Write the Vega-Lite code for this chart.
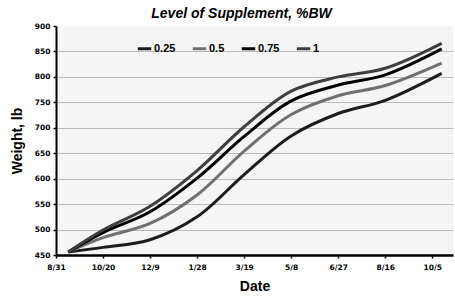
{
  "$schema": "https://vega.github.io/schema/vega-lite/v6.json",
  "width": 397,
  "height": 229,
  "autosize": "none",
  "padding": {"left": 56, "top": 26, "right": 2, "bottom": 43},
  "background": "white",
  "title": {"text": "Level of Supplement, %BW", "font": "Liberation Sans", "fontSize": 14, "fontWeight": "bold", "fontStyle": "italic", "color": "#000", "dx": -13, "offset": 1},
  "config": {
    "view": {"fill": "#f5f5f5", "stroke": null},
    "font": "Liberation Sans"
  },
  "data": {"values": [
    {"date": "2005-09-13", "level": "0.25", "weight": 456},
    {"date": "2005-10-20", "level": "0.25", "weight": 465},
    {"date": "2005-12-09", "level": "0.25", "weight": 480},
    {"date": "2006-01-28", "level": "0.25", "weight": 525},
    {"date": "2006-03-19", "level": "0.25", "weight": 608},
    {"date": "2006-05-08", "level": "0.25", "weight": 684},
    {"date": "2006-06-27", "level": "0.25", "weight": 728},
    {"date": "2006-08-16", "level": "0.25", "weight": 754},
    {"date": "2006-10-15", "level": "0.25", "weight": 807},
    {"date": "2005-09-13", "level": "0.5", "weight": 456},
    {"date": "2005-10-20", "level": "0.5", "weight": 484},
    {"date": "2005-12-09", "level": "0.5", "weight": 512},
    {"date": "2006-01-28", "level": "0.5", "weight": 568},
    {"date": "2006-03-19", "level": "0.5", "weight": 654},
    {"date": "2006-05-08", "level": "0.5", "weight": 726},
    {"date": "2006-06-27", "level": "0.5", "weight": 763},
    {"date": "2006-08-16", "level": "0.5", "weight": 783},
    {"date": "2006-10-15", "level": "0.5", "weight": 827},
    {"date": "2005-09-13", "level": "0.75", "weight": 456},
    {"date": "2005-10-20", "level": "0.75", "weight": 494},
    {"date": "2005-12-09", "level": "0.75", "weight": 535},
    {"date": "2006-01-28", "level": "0.75", "weight": 601},
    {"date": "2006-03-19", "level": "0.75", "weight": 683},
    {"date": "2006-05-08", "level": "0.75", "weight": 753},
    {"date": "2006-06-27", "level": "0.75", "weight": 784},
    {"date": "2006-08-16", "level": "0.75", "weight": 804},
    {"date": "2006-10-15", "level": "0.75", "weight": 855},
    {"date": "2005-09-13", "level": "1", "weight": 456},
    {"date": "2005-10-20", "level": "1", "weight": 499},
    {"date": "2005-12-09", "level": "1", "weight": 546},
    {"date": "2006-01-28", "level": "1", "weight": 616},
    {"date": "2006-03-19", "level": "1", "weight": 702},
    {"date": "2006-05-08", "level": "1", "weight": 772},
    {"date": "2006-06-27", "level": "1", "weight": 800},
    {"date": "2006-08-16", "level": "1", "weight": 817},
    {"date": "2006-10-15", "level": "1", "weight": 866}
  ]},
  "mark": {"type": "line", "interpolate": "catmull-rom", "strokeWidth": 3},
  "encoding": {
    "x": {
      "field": "date", "type": "temporal",
      "scale": {"type": "utc", "domain": [{"year": 2005, "month": 8, "date": 31, "utc": true}, {"year": 2006, "month": 10, "date": 27, "utc": true}]},
      "axis": {
        "title": "Date", "titleFont": "Liberation Sans", "titleFontSize": 14, "titleFontWeight": "bold", "titleColor": "#000", "titlePadding": 9,
        "values": [
          {"year": 2005, "month": 8, "date": 31, "utc": true},
          {"year": 2005, "month": 10, "date": 20, "utc": true},
          {"year": 2005, "month": 12, "date": 9, "utc": true},
          {"year": 2006, "month": 1, "date": 28, "utc": true},
          {"year": 2006, "month": 3, "date": 19, "utc": true},
          {"year": 2006, "month": 5, "date": 8, "utc": true},
          {"year": 2006, "month": 6, "date": 27, "utc": true},
          {"year": 2006, "month": 8, "date": 16, "utc": true},
          {"year": 2006, "month": 10, "date": 5, "utc": true}
        ],
        "labelExpr": "utcFormat(datum.value, '%-m/%-d')",
        "grid": false, "domainColor": "#000", "domainWidth": 2.5, "tickColor": "#000", "tickSize": 3, "tickWidth": 1.5,
        "labelFont": "DejaVu Sans", "labelFontSize": 7.5, "labelFontWeight": "bold", "labelColor": "#000", "labelPadding": 5, "labelFlush": false
      }
    },
    "y": {
      "field": "weight", "type": "quantitative",
      "scale": {"domain": [450, 900], "nice": false, "zero": false},
      "axis": {
        "title": "Weight, lb", "titleFont": "Liberation Sans", "titleFontSize": 14, "titleFontWeight": "bold", "titleColor": "#000", "titlePadding": 10,
        "values": [450, 500, 550, 600, 650, 700, 750, 800, 850, 900],
        "gridColor": {"condition": {"test": "datum.value >= 900", "value": "transparent"}, "value": "#bbbbbb"}, "gridWidth": 1,
        "domainColor": "#000", "domainWidth": 2, "tickColor": "#000", "tickSize": 3, "tickWidth": 1.5,
        "labelFont": "DejaVu Sans", "labelFontSize": 7.5, "labelFontWeight": "bold", "labelColor": "#000", "labelPadding": 3
      }
    },
    "color": {
      "field": "level", "type": "nominal",
      "scale": {"domain": ["0.25", "0.5", "0.75", "1"], "range": ["#1c1c1c", "#707070", "#000000", "#3e3e3e"]},
      "legend": {
        "title": null, "orient": "none", "direction": "horizontal", "legendX": 80, "legendY": 14,
        "symbolType": "stroke", "symbolSize": 180, "symbolStrokeWidth": 3,
        "labelFont": "Liberation Sans", "labelFontSize": 11, "labelFontWeight": "bold", "labelColor": "#000",
        "labelOffset": 1, "columnPadding": 10
      }
    }
  }
}
